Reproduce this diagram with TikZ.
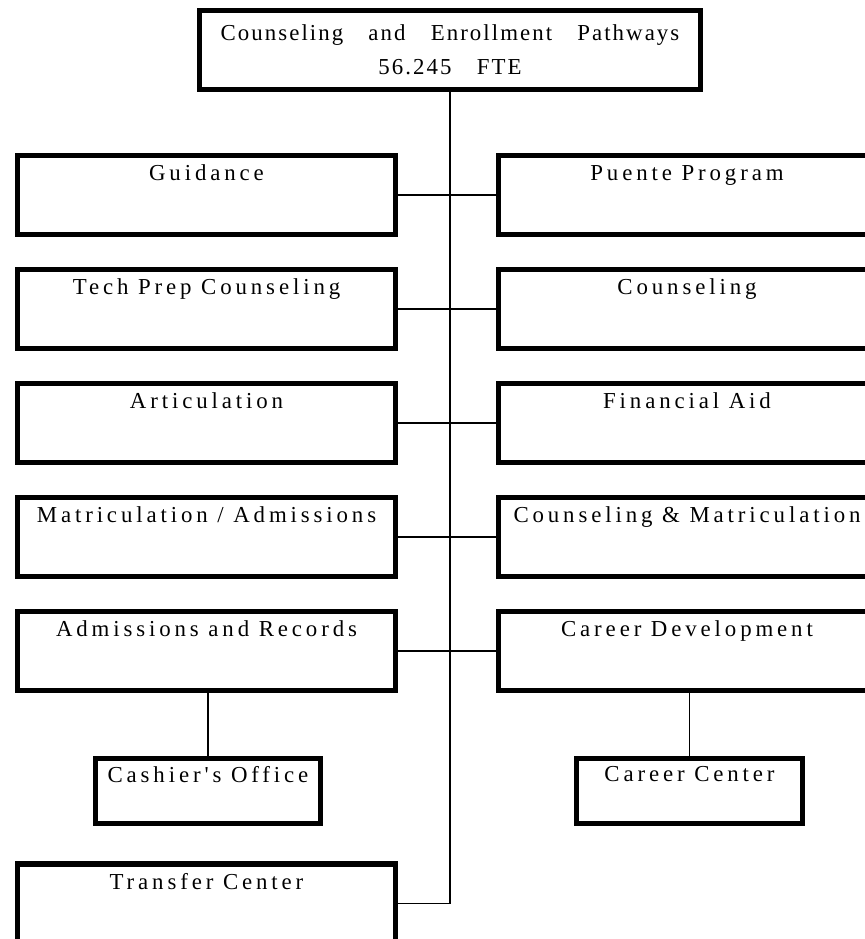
\documentclass[tikz,border=0pt]{standalone}
\usepackage{fontspec}
\newfontfamily\chartfont{Liberation Serif}[LetterSpace=17]
\newfontfamily\headfont{Liberation Serif}[LetterSpace=9,WordSpace=3.25]
\usepackage{tikz}

\begin{document}
\begin{tikzpicture}[box/.style={draw,line width=3pt,minimum width=7.55cm,minimum height=1.58cm,inner sep=0pt,align=center,font={\chartfont\fontsize{13pt}{19.3pt}\selectfont}},
  subbox/.style={box,minimum width=4.5cm,minimum height=1.3cm},
  link/.style={line width=1pt}]
\useasboundingbox (0,0) rectangle (17.3,-18.78);
\clip (0,0) rectangle (17.3,-18.78);
%head of the unit
\node[box,minimum width=10.02cm,font={\headfont\fontsize{13pt}{19.3pt}\selectfont}] (cep) at (9,-1) {Counseling and Enrollment Pathways\\56.245 FTE};
%left column
\node[box] (guid) at (4.13,-3.9) {Guidance\\\strut};
\node[box] (tech) at (4.13,-6.18) {Tech Prep Counseling\\\strut};
\node[box] (artic) at (4.13,-8.46) {Articulation\\\strut};
\node[box] (matric) at (4.13,-10.74) {Matriculation / Admissions\\\strut};
\node[box] (adm) at (4.13,-13.02) {Admissions and Records\\\strut};
\node[subbox] (cash) at (4.16,-15.82) {Cashier's Office\\\mbox{}};
\node[box] (transfer) at (4.13,-18.07) {Transfer Center\\\strut};
%right column, cut by the page edge
\node[box] (puente) at (13.74,-3.9) {Puente Program\\\strut};
\node[box] (couns) at (13.74,-6.18) {Counseling\\\strut};
\node[box] (finaid) at (13.74,-8.46) {Financial Aid\\\strut};
\node[box] (cm) at (13.74,-10.74) {Counseling \& Matriculation\\\strut};
\node[box] (career) at (13.74,-13.02) {Career Development\\\strut};
\node[subbox,minimum width=4.52cm] (cc) at (13.79,-15.82) {Career Center\\\mbox{}};
%trunk and branches
\draw[link] (cep.south) |- (transfer.east);
\draw[link] (guid.east) -- (puente.west); \draw[link] (tech.east) -- (couns.west);
\draw[link] (artic.east) -- (finaid.west); \draw[link] (matric.east) -- (cm.west);
\draw[link] (adm.east) -- (career.west);
\draw[link] (adm.south -| cash.north) -- (cash.north);
\draw[link] (career.south -| cc.north) -- (cc.north);
\end{tikzpicture}
\end{document}
